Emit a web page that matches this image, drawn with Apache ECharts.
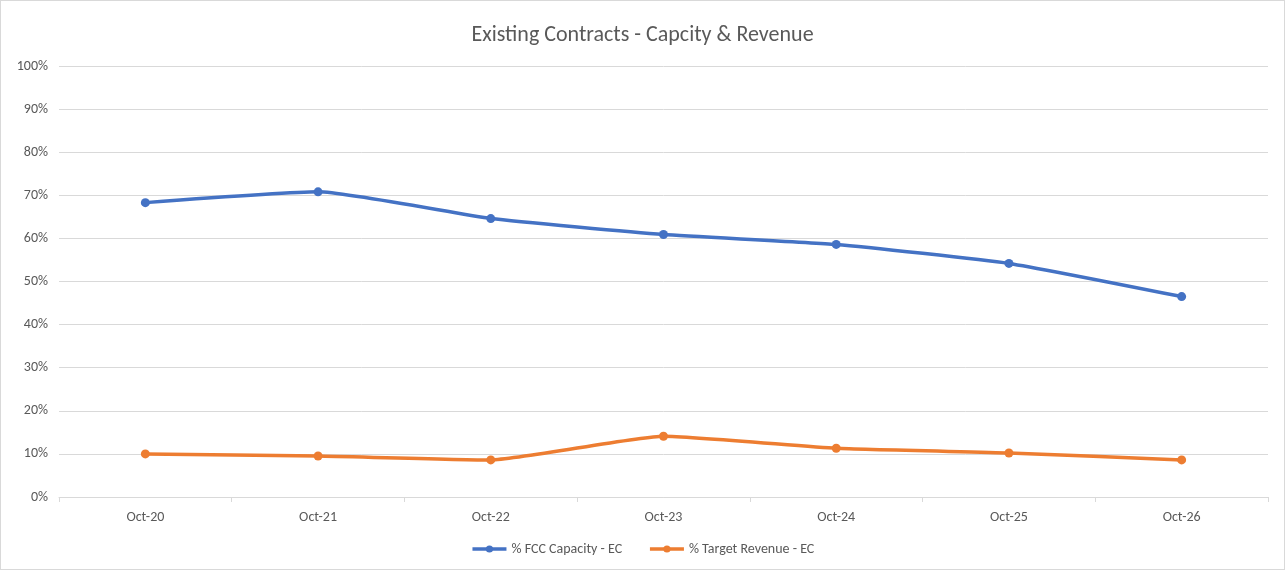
<!DOCTYPE html>
<html><head><meta charset="utf-8">
<script src="https://cdn.jsdelivr.net/npm/echarts@6/dist/echarts.min.js"></script>
<style>html,body{margin:0;padding:0;background:#fff}#c{width:1285px;height:570px;box-sizing:border-box;border:1px solid #d9d9d9}</style>
</head><body><div id="c"></div>
<script>
const categories = ['Oct-20','Oct-21','Oct-22','Oct-23','Oct-24','Oct-25','Oct-26'];
const fccCapacity = [68.3, 70.8, 64.6, 60.9, 58.6, 54.2, 46.5];
const targetRevenue = [10.0, 9.5, 8.6, 14.1, 11.3, 10.2, 8.6];
const seriesNames = ['% FCC Capacity - EC', '% Target Revenue - EC'];
const colors = ['#4472C4', '#ED7D31'];
const font = "Calibri, Carlito, 'Open Sans', sans-serif";
const chart = echarts.init(document.getElementById('c'));
chart.setOption({
  animation: false,
  title: {text: 'Existing Contracts - Capcity & Revenue', left: 'center', top: 18,
    textStyle: {fontFamily: font, fontSize: 22, fontWeight: 'normal', color: '#595959'}},
  legend: {bottom: 8, left: 'center', itemWidth: 34, itemHeight: 9, itemGap: 26,
    textStyle: {fontFamily: font, fontSize: 14, color: '#595959'},
    data: seriesNames.map((n, i) => ({name: n, itemStyle: {color: colors[i]}, lineStyle: {width: 3.5, color: colors[i]}}))},
  grid: {left: 58, right: 16, top: 65, bottom: 72, containLabel: false},
  xAxis: {type: 'category', data: categories, boundaryGap: true,
    axisLine: {lineStyle: {color: '#d9d9d9', width: 1}},
    axisTick: {show: true, length: 5, lineStyle: {color: '#d9d9d9'}},
    axisLabel: {fontFamily: font, fontSize: 14, color: '#595959', margin: 13}},
  yAxis: {type: 'value', min: 0, max: 100, interval: 10,
    axisLine: {show: false}, axisTick: {show: false},
    axisLabel: {formatter: '{value}%', fontFamily: font, fontSize: 14, color: '#595959', margin: 11},
    splitLine: {lineStyle: {color: '#d9d9d9', width: 1}}},
  series: [
    {name: seriesNames[0], type: 'line', data: fccCapacity, smooth: 0.15, symbol: 'circle', symbolSize: 9,
      lineStyle: {width: 3.5, color: colors[0]}, itemStyle: {color: colors[0]}},
    {name: seriesNames[1], type: 'line', data: targetRevenue, smooth: 0.15, symbol: 'circle', symbolSize: 9,
      lineStyle: {width: 3.5, color: colors[1]}, itemStyle: {color: colors[1]}}
  ]
});
</script></body></html>
